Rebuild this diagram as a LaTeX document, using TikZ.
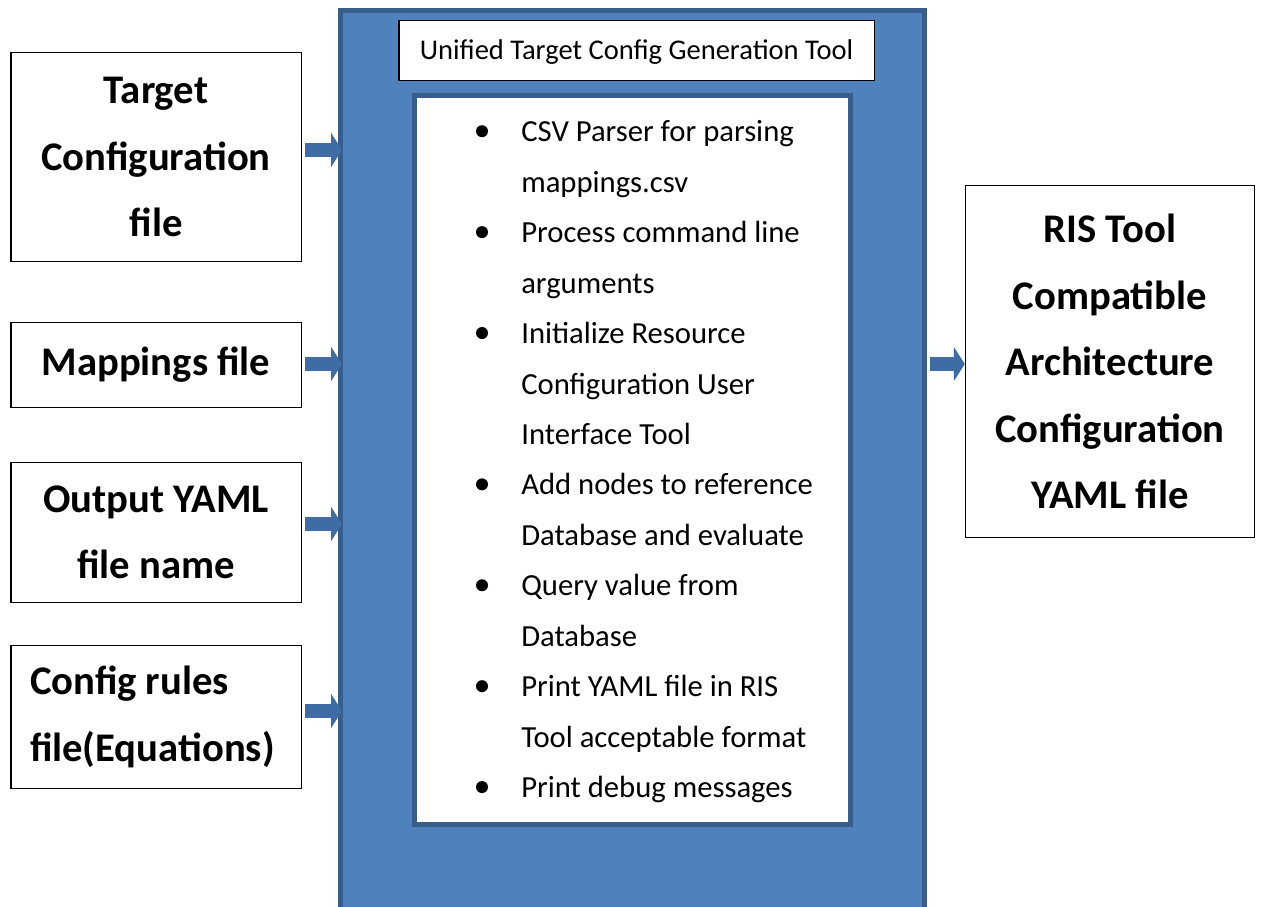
\documentclass[tikz,border=0pt]{standalone}
\usepackage{fontspec}
\setmainfont{Carlito}
\usetikzlibrary{arrows.meta,calc}
\newdimen\px \px=0.75pt
\definecolor{mainblue}{RGB}{79,129,189}
\definecolor{darkblue}{RGB}{56,93,138}
\definecolor{arrowblue}{RGB}{64,108,166}
\tikzset{
  inbox/.style={draw=black, line width=1.5\px, fill=white, minimum width=290.5\px, inner sep=0pt,
    align=center, font=\fontsize{30.5pt}{49.9pt}\selectfont\bfseries},
  flow/.style={draw=arrowblue, line width=10.5pt, -{Triangle[length=8.25pt,width=25.5pt]}},
  bul/.style={circle, fill=black, minimum size=12\px, inner sep=0pt},
  itemtext/.style={anchor=base west, text width=320\px, align=flush left, inner sep=0pt,
    font=\fontsize{23pt}{37.85pt}\selectfont}
}
\begin{document}
\begin{tikzpicture}[x=0.75pt,y=-0.75pt]
\clip (0,0) rectangle (1262,906);
\fill[white] (0,0) rectangle (1262,906);
% main blue box
\node[draw=darkblue, line width=5\px, fill=mainblue, minimum width=584\px, minimum height=919.5\px, inner sep=0pt] (main) at (632.5,470.25) {};
% inner white box
\node[draw=darkblue, line width=5\px, fill=white, minimum width=436\px, minimum height=729\px, inner sep=0pt] (inner) at (632.5,460) {};
% title
\node[draw=black, line width=1.5\px, fill=white, minimum width=475.5\px, minimum height=59.5\px, inner sep=0pt,
  text height=22\px, text depth=3\px,
  font=\fontsize{21.4pt}{25pt}\selectfont] (title) at (636.5,50.5) {Unified Target Config Generation Tool};
% input boxes
\node[inbox, minimum height=209\px] (t1) at (156,157) {Target\\Configuration\\file};
\node[inbox, minimum height=85\px] (t2) at (156,365) {Mappings file};
\node[inbox, minimum height=140\px] (t3) at (156,532.5) {Output YAML\\file name};
\node[inbox, minimum height=143\px, text width=252\px, inner xsep=19\px, align=flush left] (t4) at (156,717) {Config rules\\file(Equations)};
% output box
\node[inbox, minimum width=289\px, minimum height=352\px] (out) at (1110,361.5) {RIS Tool\\Compatible\\Architecture\\Configuration\\YAML file};
% arrows
\coordinate (a1) at (t1.east |- 0,150);
\coordinate (a2) at (t2.east |- 0,364);
\coordinate (a3) at (t3.east |- 0,524);
\coordinate (a4) at (t4.east |- 0,711);
\foreach \a in {a1,a2,a3,a4}{
  \draw[flow] ($(\a)+(3,0)$) -- ($(\a -| main.west)+(4,0)$);
}
\draw[flow] ($(main.east |- 0,364)+(2.5,0)$) -- (out.west |- 0,364);
% bullet list
\node[itemtext] (list) at (521,141.7) {CSV Parser for parsing\\mappings.csv\\Process command line\\arguments\\Initialize Resource\\Configuration User\\Interface Tool\\Add nodes to reference\\Database and evaluate\\Query value from\\Database\\Print YAML file in RIS\\Tool acceptable format\\Print debug messages};
\foreach \k/\n in {0/b1,2/b2,4/b3,7/b4,9/b5,11/b6,13/b7}{
  \node[bul] (\n) at (482,{131.2+\k*50.45}) {};
}
\end{tikzpicture}
\end{document}
